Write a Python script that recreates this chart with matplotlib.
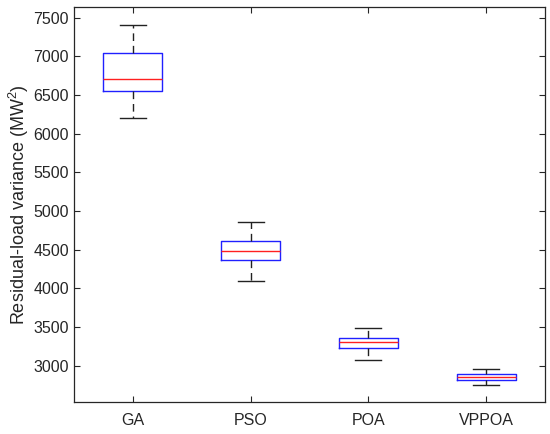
import matplotlib
matplotlib.use("Agg")
import matplotlib.pyplot as plt

categories = ["GA", "PSO", "POA", "VPPOA"]
whisker_low = [6207, 4095, 3074, 2750]
q1 = [6547, 4370, 3233, 2819]
median = [6711, 4483, 3310, 2858]
q3 = [7039, 4616, 3362, 2889]
whisker_high = [7410, 4858, 3487, 2953]
y_ticks = [3000, 3500, 4000, 4500, 5000, 5500, 6000, 6500, 7000, 7500]

plt.rcParams['font.family'] = ['Liberation Sans', 'DejaVu Sans']
plt.rcParams['mathtext.default'] = 'regular'

fig = plt.figure(figsize=(5.5, 4.34), dpi=100)
ax = fig.add_axes([0.1345, 0.0737, 0.8565, 0.9103])

stats = []
for i, c in enumerate(categories):
    stats.append(dict(label=c, whislo=whisker_low[i], q1=q1[i], med=median[i],
                      q3=q3[i], whishi=whisker_high[i], fliers=[]))

ax.bxp(stats, positions=[1, 2, 3, 4], widths=0.5, showfliers=False,
       boxprops=dict(color='#2020ff', linewidth=1.0),
       medianprops=dict(color='#ff2020', linewidth=1.0),
       whiskerprops=dict(color='#222222', linestyle=(0, (5.5, 3.5)), linewidth=1.0),
       capprops=dict(color='#222222', linewidth=1.0), capwidths=0.22)

ax.set_xlim(0.5, 4.5)
ax.set_ylim(2530, 7640)
ax.set_yticks(y_ticks)
ax.set_xticks([1, 2, 3, 4])
ax.set_xticklabels(categories)
ax.tick_params(direction='in', top=True, right=True, length=4, width=0.8,
               colors='#262626', labelsize=11.5, labelcolor='#262626')
ax.tick_params(axis='x', pad=8)
for s in ax.spines.values():
    s.set_color('#262626')
    s.set_linewidth(0.9)
ax.set_ylabel('Residual-load variance (MW$^{2}$)', fontsize=13, color='#262626', labelpad=2)
fig.savefig("out.png", dpi=100)
